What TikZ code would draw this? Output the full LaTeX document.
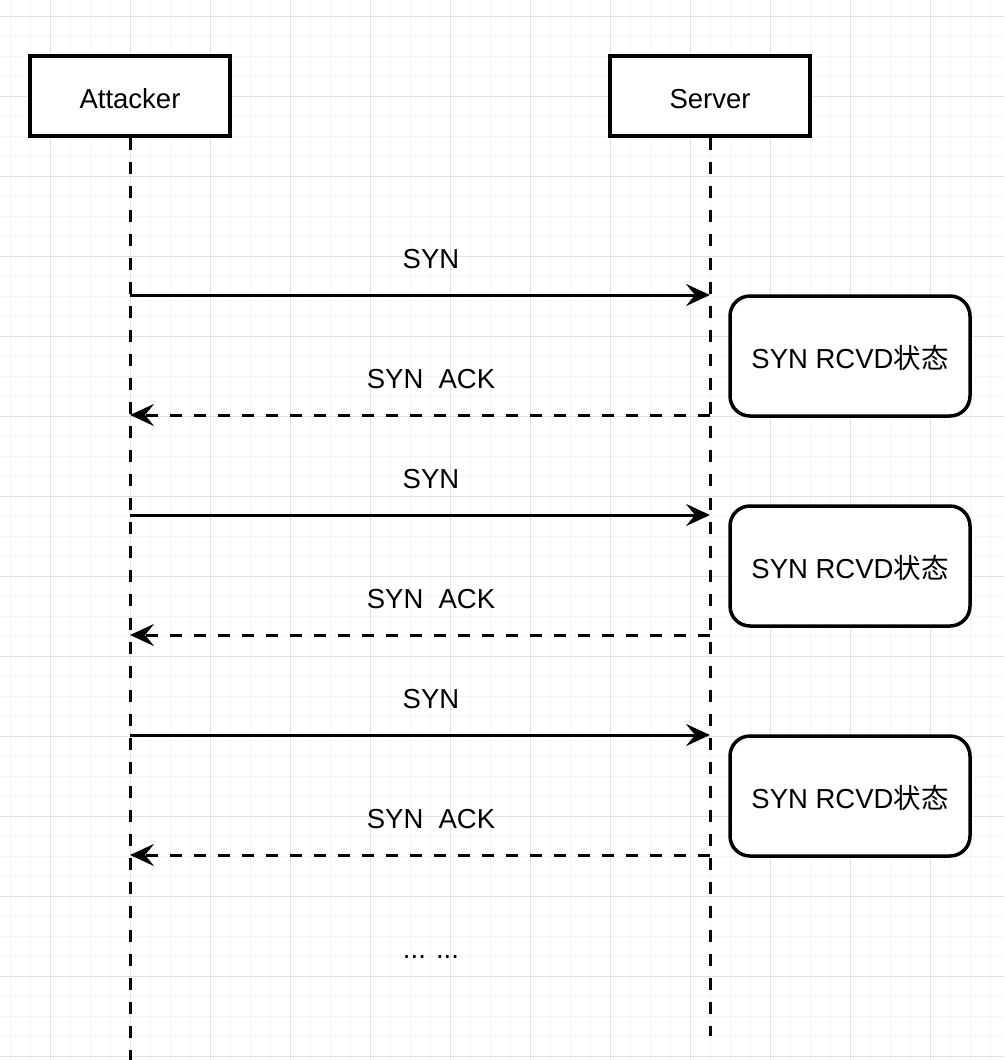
\documentclass[tikz,border=0pt]{standalone}
\usepackage{fontspec}
\setmainfont{Liberation Sans}
\newfontfamily\cjk{Noto Sans CJK SC}
\usetikzlibrary{arrows.meta}
\begin{document}
\begin{tikzpicture}[x=1pt,y=-1pt,
  minorgrid/.style={draw=black!4,line width=1pt},
  majorgrid/.style={draw=black!12,line width=1pt},
  actor/.style={draw,line width=3.5pt,fill=white,minimum width=200pt,minimum height=80pt,inner sep=0pt,text height=24pt,text depth=0pt,font=\fontsize{27.5}{32}\selectfont},
  statebox/.style={draw,line width=3.5pt,fill=white,rounded corners=20pt,minimum width=240pt,minimum height=120pt,inner sep=0pt,text height=24pt,text depth=0pt,font=\fontsize{27.5}{32}\selectfont},
  lifeline/.style={line width=3pt,dash pattern=on 12pt off 12pt},
  msg/.style={line width=3pt,-{Stealth[length=24pt,width=22pt,inset=9pt]}},
  reply/.style={msg,dash pattern=on 12pt off 12pt},
  lbl/.style={font=\fontsize{27.5}{32}\selectfont,inner sep=0pt}]
\useasboundingbox (0,0) rectangle (1004,1060);
\fill[white] (0,0) rectangle (1004,1060);
\foreach \x in {10,30,...,1000} \draw[minorgrid] (\x,0) -- (\x,1060);
\foreach \y in {16,36,...,1056} \draw[minorgrid] (0,\y) -- (1004,\y);
\foreach \x in {50,130,...,1000} \draw[majorgrid] (\x,0) -- (\x,1060);
\foreach \y in {16,96,...,1056} \draw[majorgrid] (0,\y) -- (1004,\y);

\node[actor] (att) at (130,96) {Attacker};
\node[actor] (srv) at (710,96) {Server};
\coordinate (attend) at (130,1062);
\coordinate (srvend) at (710,1036);
\draw[lifeline] (att.south) -- (attend);
\draw[lifeline] (srv.south) -- (srvend);

\foreach \i/\ys/\yr/\yb in {1/295/415/356, 2/515/635/566, 3/735/855/796} {
  \coordinate (a\i) at (130,\ys);
  \coordinate (s\i) at (710,\ys);
  \coordinate (ar\i) at (130,\yr);
  \coordinate (sr\i) at (710,\yr);
  \draw[msg] (a\i) -- (s\i);
  \draw[reply] (sr\i) -- (ar\i);
  \node[lbl] (syn\i) at (431,\ys-36) {SYN};
  \node[lbl] (ack\i) at (431,\yr-36) {SYN\ \ ACK};
  \node[statebox] (st\i) at (850,\yb) {SYN RCVD{\cjk 状态}};
}
\node[lbl,anchor=base] (dots) at (431,958) {... ...};
\end{tikzpicture}
\end{document}
